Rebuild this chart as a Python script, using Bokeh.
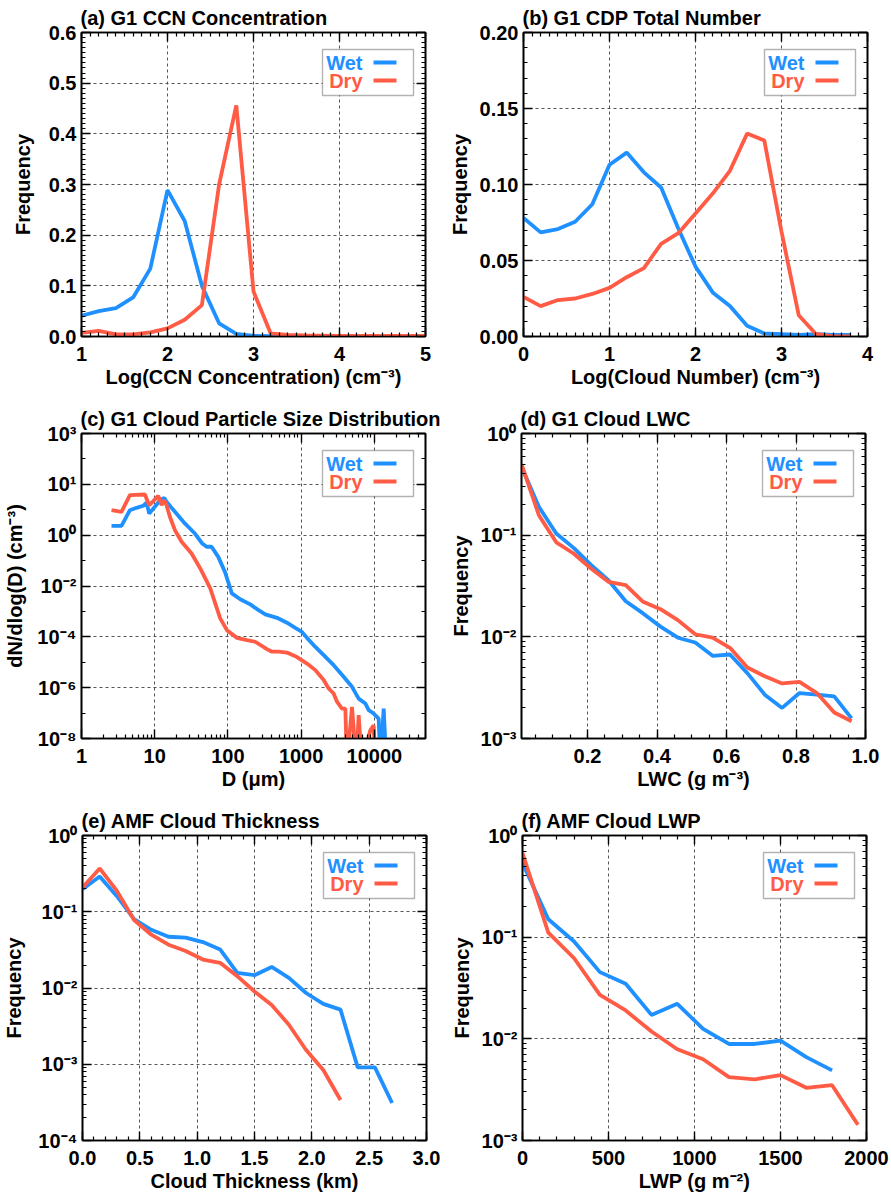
import json
import math

from bokeh.embed import file_html
from bokeh.layouts import column, row
from bokeh.models import (BoxAnnotation, CustomJSTickFormatter, FixedTicker, Label,
                          LinearAxis, LogAxis, Range1d)
from bokeh.plotting import figure
from bokeh.resources import INLINE

WET_COLOR = "#1E90FF"
DRY_COLOR = "#FF5B45"
FONT = "Liberation Sans"
FS = "20px"

# ---------------- (a) G1 CCN concentration ----------------
ccn_log = [1.0, 1.2, 1.4, 1.6, 1.8, 2.0, 2.2, 2.4, 2.6, 2.8, 3.0,
           3.2, 3.4, 3.6, 3.8, 4.0, 4.2, 4.4, 4.6, 4.8, 5.0]
ccn_wet = [0.041, 0.050, 0.056, 0.077, 0.134, 0.289, 0.228, 0.100, 0.026, 0.005, 0.001,
           0.0005, 0.0003, 0.0, 0.0, 0.0, 0.0, 0.0, 0.0, 0.0, 0.0]
ccn_dry = [0.007, 0.011, 0.004, 0.004, 0.008, 0.016, 0.033, 0.062, 0.300, 0.456, 0.089,
           0.006, 0.003, 0.002, 0.0015, 0.001, 0.001, 0.001, 0.001, 0.001, 0.001]

# ---------------- (b) G1 CDP total number ----------------
cdp_log = [0.0, 0.2, 0.4, 0.6, 0.8, 1.0, 1.2, 1.4, 1.6, 1.8,
           2.0, 2.2, 2.4, 2.6, 2.8, 3.0, 3.2, 3.4, 3.6, 3.8]
cdp_wet = [0.078, 0.0685, 0.0707, 0.0755, 0.087, 0.113, 0.121, 0.108, 0.098, 0.071,
           0.046, 0.029, 0.020, 0.007, 0.002, 0.0015, 0.001, 0.0015, 0.001, 0.001]
cdp_dry = [0.026, 0.020, 0.024, 0.025, 0.028, 0.032, 0.039, 0.045, 0.061, 0.068,
           0.081, 0.094, 0.109, 0.1335, 0.129, 0.069, 0.014, 0.0017, 0.0, 0.0]

# ---------------- (c) G1 cloud particle size distribution ----------------
psd_d_wet = [2.57, 3.52, 4.58, 5.64, 6.97, 7.73, 8.41, 10.3, 11.8, 13.5, 14.5,
             18.9, 25.8, 35.4, 44.6, 51.1, 59.8, 73.8, 91.0, 106, 113, 147.5,
             202, 262, 324, 468, 640, 832, 1026, 1202, 1563, 2032, 2781, 3811,
             4955, 6109, 7534, 8370, 9790, 11460, 12080, 13420, 14600]
psd_wet = [2.33, 2.33, 9.6, 11.9, 14.3, 19.3, 7.1, 14.3, 23.8, 29.4, 20.5,
           8.3, 2.9, 1.16, 0.47, 0.35, 0.35, 0.14, 0.036, 0.0093, 0.0051, 0.0030,
           0.0019, 0.00112, 0.00076, 0.00056, 0.00036, 0.000226, 0.000157, 9.1e-5,
           4.0e-5, 1.9e-5, 7.7e-6, 2.7e-6, 1.08e-6, 3.7e-7, 2.4e-7, 1.3e-7, 9.6e-8,
           6.1e-8, 1e-9, 1.5e-7, 1e-9]
psd_d_dry = [2.57, 3.52, 4.58, 7.34, 8.41, 11.2, 12.4, 13.5, 14.5, 16.1, 18.9,
             23.3, 31.9, 41.9, 57.4, 78.5, 96.9, 133, 182, 236, 341, 399, 493,
             640, 877, 1202, 1563, 2032, 2377, 2781, 3090, 3614, 4018, 4230,
             4955, 5675, 6109, 6775, 8810, 9790, 10330]
psd_dry = [9.6, 8.3, 37.5, 39.8, 15.1, 35.3, 15.1, 23.8, 15.1, 5.3, 1.57,
           0.55, 0.19, 0.049, 0.008, 0.00053, 0.000183, 9.1e-5, 7.4e-5, 6.4e-5,
           3.3e-5, 2.6e-5, 2.6e-5, 2.4e-5, 1.6e-5, 8.9e-6, 4.9e-6, 2.0e-6, 9.3e-7,
           5.9e-7, 2.8e-7, 1.5e-7, 1.5e-7, 1e-9, 1.76e-7, 1e-9, 8.3e-8, 1e-9,
           2.1e-8, 3.3e-8, 1e-9]

# ---------------- (d) G1 cloud LWC ----------------
lwc = [0.01, 0.06, 0.11, 0.16, 0.21, 0.26, 0.31, 0.36, 0.41, 0.46,
       0.51, 0.56, 0.61, 0.66, 0.71, 0.76, 0.81, 0.86, 0.91, 0.96]
lwc_wet = [0.47, 0.19, 0.104, 0.075, 0.051, 0.036, 0.0224, 0.017, 0.0126, 0.0098,
           0.0088, 0.0065, 0.0067, 0.0044, 0.0027, 0.0020, 0.0028, 0.0027, 0.0026, 0.00158]
lwc_dry = [0.50, 0.157, 0.085, 0.066, 0.047, 0.0348, 0.0323, 0.0221, 0.0187, 0.0146,
           0.0106, 0.0098, 0.0078, 0.0050, 0.0041, 0.00348, 0.0036, 0.0028, 0.0018, 0.00148]

# ---------------- (e) AMF cloud thickness ----------------
thick_wet_km = [0.0, 0.15, 0.30, 0.45, 0.60, 0.75, 0.90, 1.05, 1.20, 1.35,
                1.50, 1.65, 1.80, 1.95, 2.10, 2.25, 2.40, 2.55, 2.70]
thick_wet = [0.198, 0.29, 0.16, 0.080, 0.058, 0.047, 0.0457, 0.040, 0.032, 0.0158,
             0.0147, 0.0189, 0.0136, 0.0086, 0.0062, 0.0052, 0.00091, 0.00091, 0.00031]
thick_dry_km = [0.0, 0.15, 0.30, 0.45, 0.60, 0.75, 0.90, 1.05, 1.20, 1.35,
                1.50, 1.65, 1.80, 1.95, 2.10, 2.25]
thick_dry = [0.208, 0.37, 0.188, 0.078, 0.050, 0.037, 0.0305, 0.0236, 0.0214, 0.0143,
             0.0090, 0.0060, 0.0033, 0.00154, 0.00084, 0.00034]

# ---------------- (f) AMF cloud LWP ----------------
lwp_wet_g = [0, 150, 300, 450, 600, 750, 900, 1050, 1200, 1350, 1500, 1650, 1800]
lwp_wet = [0.535, 0.150, 0.0906, 0.0453, 0.0348, 0.0172, 0.0221, 0.0125, 0.0089,
           0.0089, 0.0096, 0.0066, 0.0049]
lwp_dry_g = [0, 150, 300, 450, 600, 750, 900, 1050, 1200, 1350, 1500, 1650, 1800, 1950]
lwp_dry = [0.67, 0.111, 0.062, 0.0271, 0.019, 0.0118, 0.0079, 0.0063, 0.0042, 0.0040,
           0.0044, 0.0033, 0.0035, 0.00143]

# ---------------- axis ticks and labels ----------------
ccn_xticks = [1, 2, 3, 4, 5]
ccn_xlabels = ["1", "2", "3", "4", "5"]
ccn_yticks = [0.0, 0.1, 0.2, 0.3, 0.4, 0.5, 0.6]
ccn_ylabels = ["0.0", "0.1", "0.2", "0.3", "0.4", "0.5", "0.6"]

cdp_xticks = [0, 1, 2, 3, 4]
cdp_xlabels = ["0", "1", "2", "3", "4"]
cdp_yticks = [0.0, 0.05, 0.10, 0.15, 0.20]
cdp_ylabels = ["0.00", "0.05", "0.10", "0.15", "0.20"]

psd_xticks = [1, 10, 100, 1000, 10000]
psd_xlabels = ["1", "10", "100", "1000", "10000"]
psd_yticks = [1e4, 1e2, 1e0, 1e-2, 1e-4, 1e-6, 1e-8]
psd_ylabels = ["10³", "10¹", "10⁰", "10⁻²", "10⁻⁴", "10⁻⁶", "10⁻⁸"]

lwc_xticks = [0.2, 0.4, 0.6, 0.8, 1.0]
lwc_xlabels = ["0.2", "0.4", "0.6", "0.8", "1.0"]
freq3_yticks = [1e0, 1e-1, 1e-2, 1e-3]
freq3_ylabels = ["10⁰", "10⁻¹", "10⁻²", "10⁻³"]

thick_xticks = [0.0, 0.5, 1.0, 1.5, 2.0, 2.5, 3.0]
thick_xlabels = ["0.0", "0.5", "1.0", "1.5", "2.0", "2.5", "3.0"]
freq4_yticks = [1e0, 1e-1, 1e-2, 1e-3, 1e-4]
freq4_ylabels = ["10⁰", "10⁻¹", "10⁻²", "10⁻³", "10⁻⁴"]

lwp_xticks = [0, 500, 1000, 1500, 2000]
lwp_xlabels = ["0", "500", "1000", "1500", "2000"]


def linear_minor(lo, hi, step):
    n = int(round((hi - lo) / step))
    return [round(lo + i * step, 6) for i in range(n + 1)]


def log_minor(lo_exp, hi_exp, mults=(2, 3, 4, 5, 6, 7, 8, 9)):
    return [m * 10.0 ** e for e in range(lo_exp, hi_exp) for m in mults]


def label_formatter(ticks, labels):
    code = (
        "const t = %s; const l = %s;"
        "for (let i = 0; i < t.length; i++) {"
        "  if (tick === t[i] || Math.abs(tick - t[i]) <= 1e-9 * Math.abs(t[i])) return l[i];"
        "}"
        "return '';" % (json.dumps(ticks), json.dumps(labels))
    )
    return CustomJSTickFormatter(code=code)


BLANK = "return '';"


def frac_to_data(rng, frac, log):
    lo, hi = rng
    if log:
        return 10 ** (math.log10(lo) + (math.log10(hi) - math.log10(lo)) * frac)
    return lo + (hi - lo) * frac


FRAME_W = 344


def style_axis(ax, show_labels):
    ax.axis_line_width = 1.6
    ax.axis_line_color = "black"
    ax.major_tick_in = 9
    ax.major_tick_out = 0
    ax.minor_tick_in = 4
    ax.minor_tick_out = 0
    ax.major_tick_line_width = 1.4
    ax.minor_tick_line_width = 1.2
    ax.major_tick_line_color = "black"
    ax.minor_tick_line_color = "black"
    if show_labels:
        ax.major_label_text_font = FONT
        ax.major_label_text_font_style = "bold"
        ax.major_label_text_font_size = FS
        ax.major_label_text_color = "black"
        ax.axis_label_text_font = FONT
        ax.axis_label_text_font_style = "bold"
        ax.axis_label_text_font_size = FS
        ax.axis_label_text_color = "black"
    else:
        ax.formatter = CustomJSTickFormatter(code=BLANK)
        ax.major_label_text_font_size = "1px"
        ax.major_label_standoff = 0
        ax.axis_label = None


def make_panel(title, xr, yr, xlog, ylog, xt, xl, xminor, yt, yl, yminor,
               xlabel, ylabel, borders, frame_h, ylabel_gap, series):
    left, right, top, bottom = borders
    p = figure(
        title=title,
        frame_width=FRAME_W, frame_height=frame_h,
        x_range=Range1d(*xr), y_range=Range1d(*yr),
        x_axis_type="log" if xlog else "linear",
        y_axis_type="log" if ylog else "linear",
        output_backend="svg", toolbar_location=None,
        min_border_left=left, min_border_right=right,
        min_border_top=top, min_border_bottom=bottom,
        background_fill_color="white", border_fill_color="white",
    )
    p.outline_line_color = "black"
    p.outline_line_width = 1.6

    p.title.text_font = FONT
    p.title.text_font_style = "bold"
    p.title.text_font_size = FS
    p.title.text_color = "black"
    p.title.align = "left"
    p.title.text_line_height = 0.9
    p.title.standoff = 8
    p.title.offset = -1

    xticker = FixedTicker(ticks=xt, minor_ticks=xminor)
    yticker = FixedTicker(ticks=yt, minor_ticks=yminor)

    xax = p.xaxis[0]
    yax = p.yaxis[0]
    xax.ticker = xticker
    yax.ticker = yticker
    xax.formatter = label_formatter(xt, xl)
    yax.formatter = label_formatter(yt, yl)
    xax.axis_label = xlabel
    yax.axis_label = ylabel
    style_axis(xax, True)
    style_axis(yax, True)
    xax.major_label_standoff = 10
    xax.axis_label_standoff = 2
    yax.major_label_standoff = 5
    yax.axis_label_standoff = ylabel_gap

    XAxis = LogAxis if xlog else LinearAxis
    YAxis = LogAxis if ylog else LinearAxis
    top_ax = XAxis(ticker=FixedTicker(ticks=xt, minor_ticks=xminor))
    right_ax = YAxis(ticker=FixedTicker(ticks=yt, minor_ticks=yminor))
    style_axis(top_ax, False)
    style_axis(right_ax, False)
    p.add_layout(top_ax, "above")
    p.add_layout(right_ax, "right")

    for g in (p.xgrid[0], p.ygrid[0]):
        g.grid_line_color = "#555555"
        g.grid_line_width = 1
        g.grid_line_dash = "3 3"

    for xs, ys, color in series:
        p.line(xs, ys, line_color=color, line_width=3.8)

    # legend: text on the left, line sample on the right, inside a framed box
    H = frame_h

    def X(px):
        return frac_to_data(xr, px / FRAME_W, xlog)

    def Y(py):
        return frac_to_data(yr, 1 - py / H, ylog)

    p.add_layout(BoxAnnotation(left=X(241), right=X(332), top=Y(17), bottom=Y(63),
                               fill_color="white", fill_alpha=1.0,
                               line_color="black", line_width=1.4))
    for name, color, cy in (("Wet", WET_COLOR, 30), ("Dry", DRY_COLOR, 48)):
        p.add_layout(Label(x=X(281), y=Y(cy), text=name, text_align="right",
                           text_baseline="middle", text_font=FONT,
                           text_font_style="bold", text_font_size=FS,
                           text_color=color))
        p.add_layout(BoxAnnotation(left=X(292), right=X(315), top=Y(cy - 2),
                                   bottom=Y(cy + 2), fill_color=color, fill_alpha=1.0,
                                   line_alpha=0))
    return p


pa = make_panel("(a) G1 CCN Concentration", (1, 5), (0, 0.6), False, False,
                ccn_xticks, ccn_xlabels, linear_minor(1, 5, 0.1),
                ccn_yticks, ccn_ylabels, linear_minor(0, 0.6, 0.01),
                "Log(CCN Concentration) (cm⁻³)", "Frequency",
                (81, 20, 31, 55), 304, 12,
                [(ccn_log, ccn_wet, WET_COLOR), (ccn_log, ccn_dry, DRY_COLOR)])

pb = make_panel("(b) G1 CDP Total Number", (0, 4), (0, 0.2), False, False,
                cdp_xticks, cdp_xlabels, linear_minor(0, 4, 0.1),
                cdp_yticks, cdp_ylabels, linear_minor(0, 0.2, 0.01),
                "Log(Cloud Number) (cm⁻³)", "Frequency",
                (76, 27, 31, 55), 304, 6,
                [(cdp_log, cdp_wet, WET_COLOR), (cdp_log, cdp_dry, DRY_COLOR)])

pc = make_panel("(c) G1 Cloud Particle Size Distribution", (1, 5e4), (1e-8, 1e4), True, True,
                psd_xticks, psd_xlabels, log_minor(0, 5),
                psd_yticks, psd_ylabels, [10.0 ** e for e in range(-7, 4, 2)],
                "D (μm)", "dN/dlog(D) (cm⁻³)",
                (81, 20, 42, 53), 305, 8,
                [(psd_d_wet, psd_wet, WET_COLOR), (psd_d_dry, psd_dry, DRY_COLOR)])

pd_ = make_panel("(d) G1 Cloud LWC", (0.01, 1.0), (1e-3, 1e0), False, True,
                 lwc_xticks, lwc_xlabels, linear_minor(0.05, 1.0, 0.05),
                 freq3_yticks, freq3_ylabels, log_minor(-3, 0),
                 "LWC (g m⁻³)", "Frequency",
                 (76, 27, 42, 53), 305, 6,
                 [(lwc, lwc_wet, WET_COLOR), (lwc, lwc_dry, DRY_COLOR)])

pe = make_panel("(e) AMF Cloud Thickness", (0, 3), (1e-4, 1e0), False, True,
                thick_xticks, thick_xlabels, linear_minor(0, 3, 0.1),
                freq4_yticks, freq4_ylabels, log_minor(-4, 0),
                "Cloud Thickness (km)", "Frequency",
                (81, 20, 43, 54), 305, 10,
                [(thick_wet_km, thick_wet, WET_COLOR), (thick_dry_km, thick_dry, DRY_COLOR)])

pf = make_panel("(f) AMF Cloud LWP", (0, 2000), (1e-3, 1e0), False, True,
                lwp_xticks, lwp_xlabels, linear_minor(0, 2000, 100),
                freq3_yticks, freq3_ylabels, log_minor(-3, 0),
                "LWP (g m⁻²)", "Frequency",
                (76, 27, 43, 54), 305, 6,
                [(lwp_wet_g, lwp_wet, WET_COLOR), (lwp_dry_g, lwp_dry, DRY_COLOR)])

layout = column(row(pa, pb), row(pc, pd_), row(pe, pf))

with open("out.html", "w") as f:
    f.write(file_html(layout, INLINE))
